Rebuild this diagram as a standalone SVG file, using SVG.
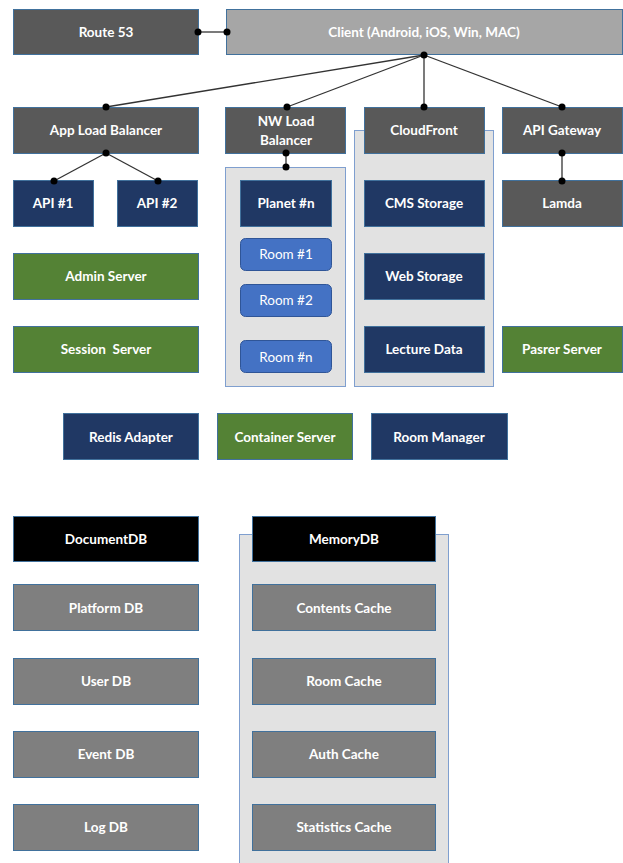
<svg xmlns="http://www.w3.org/2000/svg" width="623" height="863" viewBox="0 0 623 863">
<defs>
<style>
text{font-family:Lato,"Liberation Sans",sans-serif;font-size:13.5px;fill:#fff;text-anchor:middle;dominant-baseline:central;font-weight:bold}
.dg{fill:#595959;stroke:#41719c;stroke-width:1}
.lg{fill:#a6a6a6;stroke:#41719c;stroke-width:1}
.db{fill:#203864;stroke:#41719c;stroke-width:1}
.gr{fill:#548235;stroke:#41719c;stroke-width:1}
.rm{fill:#4472c4;stroke:#2f5597;stroke-width:1}
.gy{fill:#7f7f7f;stroke:#41719c;stroke-width:1}
.bk{fill:#000;stroke:#41719c;stroke-width:1}
.pn{fill:#e2e2e2;stroke:#7f9fcf;stroke-width:1}
.ln{stroke:#333;stroke-width:1.3;fill:none}
.dot{fill:#000}
text.n{font-weight:normal}
</style>
</defs>
<rect width="623" height="863" fill="#fff"/>
<g id="panel-nw"><rect class="pn" x="225.5" y="167.5" width="120" height="219"/></g>
<g id="panel-cf"><rect class="pn" x="354.5" y="130.5" width="139" height="256"/></g>
<g id="panel-mem"><rect class="pn" x="239.5" y="534.5" width="209" height="330"/></g>

<g id="route53"><rect class="dg" x="13.5" y="9.5" width="185" height="45"/><text x="106" y="32">Route 53</text></g>
<g id="client"><rect class="lg" x="226.5" y="9.5" width="396" height="45"/><text x="424" y="32">Client (Android, iOS, Win, MAC)</text></g>
<g id="applb"><rect class="dg" x="13.5" y="107.5" width="185" height="46"/><text x="106" y="130">App Load Balancer</text></g>
<g id="nwlb"><rect class="dg" x="225.5" y="107.5" width="120" height="46"/><text x="286" y="121">NW Load</text><text x="286" y="140">Balancer</text></g>
<g id="cloudfront"><rect class="dg" x="364.5" y="107.5" width="120" height="46"/><text x="424" y="130">CloudFront</text></g>
<g id="apigw"><rect class="dg" x="502.5" y="107.5" width="120" height="46"/><text x="562" y="130">API Gateway</text></g>

<g id="api1"><rect class="db" x="13.5" y="180.5" width="80" height="46"/><text x="53" y="203">API #1</text></g>
<g id="api2"><rect class="db" x="117.5" y="180.5" width="80" height="46"/><text x="157" y="203">API #2</text></g>
<g id="planet"><rect class="db" x="240.5" y="180.5" width="91" height="46"/><text x="286" y="203">Planet #n</text></g>
<g id="cms"><rect class="db" x="364.5" y="180.5" width="120" height="46"/><text x="424" y="203">CMS Storage</text></g>
<g id="lamda"><rect class="dg" x="502.5" y="180.5" width="120" height="46"/><text x="562" y="203">Lamda</text></g>

<g id="room1"><rect class="rm" x="240.5" y="238.5" width="91" height="32" rx="5"/><text class="n" x="286" y="254">Room #1</text></g>
<g id="room2"><rect class="rm" x="240.5" y="284.5" width="91" height="32" rx="5"/><text class="n" x="286" y="300">Room #2</text></g>
<g id="roomn"><rect class="rm" x="240.5" y="340.5" width="91" height="32" rx="5"/><text class="n" x="286" y="357">Room #n</text></g>

<g id="admin"><rect class="gr" x="13.5" y="253.5" width="185" height="46"/><text x="106" y="276">Admin Server</text></g>
<g id="session"><rect class="gr" x="13.5" y="326.5" width="185" height="46"/><text x="106" y="349" xml:space="preserve">Session  Server</text></g>
<g id="webstorage"><rect class="db" x="364.5" y="253.5" width="120" height="46"/><text x="424" y="276">Web Storage</text></g>
<g id="lecture"><rect class="db" x="364.5" y="326.5" width="120" height="46"/><text x="424" y="349">Lecture Data</text></g>
<g id="parser"><rect class="gr" x="502.5" y="326.5" width="120" height="46"/><text x="562" y="349">Pasrer Server</text></g>

<g id="redis"><rect class="db" x="63.5" y="413.5" width="135" height="46"/><text x="131" y="437">Redis Adapter</text></g>
<g id="container"><rect class="gr" x="217.5" y="413.5" width="135" height="46"/><text x="285" y="437">Container Server</text></g>
<g id="roommgr"><rect class="db" x="371.5" y="413.5" width="136" height="46"/><text x="439" y="437">Room Manager</text></g>

<g id="documentdb"><rect class="bk" x="13.5" y="516.5" width="185" height="45"/><text x="106" y="539">DocumentDB</text></g>
<g id="memorydb"><rect class="bk" x="252.5" y="516.5" width="183" height="45"/><text x="344" y="539">MemoryDB</text></g>

<g id="platformdb"><rect class="gy" x="13.5" y="584.5" width="185" height="46"/><text x="106" y="608">Platform DB</text></g>
<g id="userdb"><rect class="gy" x="13.5" y="658.5" width="185" height="46"/><text x="106" y="681">User DB</text></g>
<g id="eventdb"><rect class="gy" x="13.5" y="731.5" width="185" height="46"/><text x="106" y="754">Event DB</text></g>
<g id="logdb"><rect class="gy" x="13.5" y="804.5" width="185" height="46"/><text x="106" y="827">Log DB</text></g>
<g id="contentscache"><rect class="gy" x="252.5" y="584.5" width="183" height="46"/><text x="344" y="608">Contents Cache</text></g>
<g id="roomcache"><rect class="gy" x="252.5" y="658.5" width="183" height="46"/><text x="344" y="681">Room Cache</text></g>
<g id="authcache"><rect class="gy" x="252.5" y="731.5" width="183" height="46"/><text x="344" y="754">Auth Cache</text></g>
<g id="statscache"><rect class="gy" x="252.5" y="804.5" width="183" height="46"/><text x="344" y="827">Statistics Cache</text></g>

<g id="connectors">
<line class="ln" x1="198" y1="32" x2="227" y2="32"/>
<line class="ln" x1="424" y1="55" x2="106" y2="107"/>
<line class="ln" x1="424" y1="55" x2="287" y2="107"/>
<line class="ln" x1="424" y1="55" x2="424" y2="107"/>
<line class="ln" x1="424" y1="55" x2="562" y2="107"/>
<line class="ln" x1="106" y1="153" x2="54" y2="181"/>
<line class="ln" x1="106" y1="153" x2="158" y2="181"/>
<line class="ln" x1="286" y1="153" x2="286" y2="167"/>
<line class="ln" x1="562" y1="153" x2="562" y2="181"/>
<circle class="dot" cx="198" cy="32" r="3.5"/>
<circle class="dot" cx="227" cy="32" r="3.5"/>
<circle class="dot" cx="424" cy="55" r="3.5"/>
<circle class="dot" cx="106" cy="107" r="3.5"/>
<circle class="dot" cx="287" cy="107" r="3.5"/>
<circle class="dot" cx="424" cy="107" r="3.5"/>
<circle class="dot" cx="562" cy="107" r="3.5"/>
<circle class="dot" cx="106" cy="153" r="3.5"/>
<circle class="dot" cx="54" cy="181" r="3.5"/>
<circle class="dot" cx="158" cy="181" r="3.5"/>
<circle class="dot" cx="286" cy="153" r="3.5"/>
<circle class="dot" cx="286" cy="167" r="3.5"/>
<circle class="dot" cx="562" cy="153" r="3.5"/>
<circle class="dot" cx="562" cy="181" r="3.5"/>
</g>
</svg>
